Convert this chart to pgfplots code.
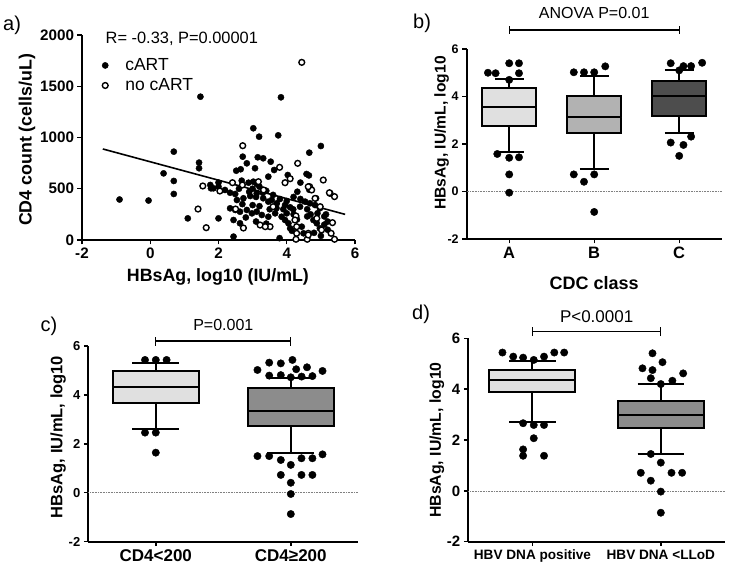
\documentclass[border=0pt]{standalone}
\usepackage{pgfplots}
\pgfplotsset{compat=1.18}
\usepgfplotslibrary{statistics}
\usepackage{fontspec}
\setmainfont{Liberation Sans}

\definecolor{boxlight}{HTML}{E0E0E0}
\definecolor{boxmid}{HTML}{B2B2B2}
\definecolor{boxdark}{HTML}{4D4D4D}
\definecolor{boxgray}{HTML}{8C8C8C}

\pgfplotsset{
  gp/.style={
    scale only axis,
    axis lines=left,
    axis line style={-, line width=2pt},
    tick align=outside,
    major tick length=4.5pt,
    every tick/.style={black, line width=1.4pt},
    xtick pos=bottom, ytick pos=left,
    /pgf/number format/assume math mode=true,
    /pgf/number format/1000 sep={},
    scaled ticks=false,
    clip=false,
    anchor=south west,
  },
  bp/.style={gp, xmin=-0.5, ymin=-2, ymax=6, ytick={-2,0,2,4,6}, xtick={0,1},
    boxplot/draw direction=y},
  outl/.style={only marks, mark=*, mark size=3.7pt, black},
}

\begin{document}
\begin{tikzpicture}
\useasboundingbox (0,0) rectangle (731pt,573pt);

% ---------------- panel a ----------------
\begin{axis}[gp, at={(82pt,333pt)}, width=273pt, height=205pt,
  xmin=-2, xmax=6, ymin=0, ymax=2000,
  xtick={-2,0,2,4,6}, ytick={0,500,1000,1500,2000},
  ticklabel style={font=\fontsize{15.2}{16}\selectfont\bfseries},
  every axis y label/.style={at={(axis description cs:-0.2015,0.488)}, rotate=90, anchor=center, font=\fontsize{17.8}{19}\selectfont\bfseries},
  every axis x label/.style={at={(axis description cs:0.498,-0.18)}, anchor=center, font=\fontsize{17.8}{19}\selectfont\bfseries},
  ylabel={CD4 count (cells/uL)}, xlabel={HBsAg, log10 (IU/mL)},
  legend style={at={(axis description cs:0.062,0.905)}, anchor=north west, draw=none, fill=none, font=\fontsize{17.5}{19}\selectfont, row sep=2.5pt,
    /tikz/every odd column/.append style={column sep=15pt}},
  legend cell align=left,
  legend image code/.code={\draw[#1] plot coordinates {(0.15cm,0cm)};},
]
\addplot[only marks, mark=*, mark size=3.1pt, black] coordinates {
(-0.9,395) (-0.05,385) (0.39,650) (0.69,862) (0.69,576) (0.69,449) (1.1,211)
(1.47,1398) (1.43,755) (1.43,700) (2.0,211) (1.78,504) (2.0,560) (2.44,33)
(3.83,1392) (3.75,1021) (3.02,1090) (3.19,1008) (5.0,917) (4.66,852) (3.79,18)
(2.71,813) (3.15,807) (3.31,797) (3.53,764) (2.83,748) (3.07,700) (2.52,676)
(2.65,690) (3.63,683) (4.03,634) (3.46,618) (4.58,644) (2.68,579) (1.76,537)
(1.85,504) (2.0,520) (2.88,559) (3.02,569) (3.12,546) (2.19,488) (2.34,461)
(2.49,449) (4.31,471) (4.66,490) (4.86,407) (2.54,390) (2.73,407) (2.93,429)
(3.12,455) (3.31,407) (3.46,374) (3.56,390) (3.71,358) (3.95,341) (4.1,319)
(4.19,299) (4.39,325) (4.54,374) (4.68,358) (4.83,341) (4.97,309) (2.34,309)
(2.49,293) (2.63,276) (2.83,293) (2.98,260) (3.12,276) (3.27,244) (3.46,227)
(3.66,260) (2.44,195) (2.63,163) (3.85,227) (3.95,195) (4.05,163) (4.1,114)
(4.44,130) (4.49,65) (4.78,195) (4.88,163) (4.97,114)
(3.0,500) (3.2,520) (3.4,480) (2.9,470) (3.1,420) (3.3,460) (3.6,440) (3.8,400)
(4.0,380) (4.2,420) (4.4,400) (4.6,300) (4.7,250) (4.9,260) (5.1,230) (5.2,180)
(4.2,250) (4.3,200) (4.0,260) (3.9,300) (4.6,230) (2.7,350) (3.0,340) (3.2,330)
(3.5,300) (3.7,310) (2.8,220) (3.1,180) (3.4,160) (2.6,500) (5.1,150) (5.2,100)
(4.15,90) (4.8,70) (5.0,40) (5.15,250) (4.4,560) (4.65,630)
};
\addlegendentry{cART}
\addplot[only marks, mark=*, mark size=2.9pt, draw=black, fill=white, mark options={line width=1.4pt, fill=white}] coordinates {
(4.44,1733) (2.71,920) (4.32,748) (3.79,709) (1.54,527) (1.40,302) (1.64,120)
(2.04,478) (2.41,559) (3.95,559) (4.1,598) (5.07,585) (5.27,455) (5.4,423)
(4.67,520) (4.73,488) (3.51,130) (2.73,117) (2.5,302) (4.27,234) (4.29,65)
(4.27,7) (4.63,65) (4.6,7) (5.02,98) (5.34,169) (5.3,65) (5.4,7) (4.88,211)
(4.98,325) (4.83,406) (2.7,537) (3.6,325) (3.32,488) (3.17,569) (3.22,146)
(3.37,130) (4.63,520) (5.25,461) (4.24,195) (4.29,130) (4.63,49)
};
\addlegendentry{no cART}
\addplot[black, line width=1.6pt, forget plot] coordinates {(-1.39,888) (5.71,250)};
\node[anchor=west, font=\fontsize{16.4}{18}\selectfont] at (axis cs:-1.41,1960) {R= -0.33, P=0.00001};
\node[font=\fontsize{20}{22}\selectfont] at (axis description cs:-0.256,1.049) {a)};
\end{axis}

% ---------------- panel b ----------------
\begin{axis}[bp, at={(466.7pt,334pt)}, width=255pt, height=190pt,
  xmax=2.5, xtick={0,1,2}, xticklabels={A,B,C},
  yticklabel style={font=\fontsize{12.5}{13}\selectfont\bfseries},
  xticklabel style={font=\fontsize{16.5}{18}\selectfont\bfseries},
  every axis y label/.style={at={(axis description cs:-0.098,0.558)}, rotate=90, anchor=center, font=\fontsize{15.6}{17}\selectfont\bfseries},
  every axis x label/.style={at={(axis description cs:0.5,-0.232)}, anchor=center, font=\fontsize{18}{20}\selectfont\bfseries},
  ylabel={HBsAg, IU/mL, log10}, xlabel={CDC class},
]
\addplot[densely dotted, gray, line width=0.6pt] coordinates {(-0.5,0) (2.5,0)};
\addplot[boxplot prepared={lower whisker=1.65, lower quartile=2.76, median=3.54, upper quartile=4.34, upper whisker=4.72, draw position=0, box extend=0.64, whisker extend=0.34}, draw=black, line width=2pt, fill=boxlight] coordinates {};
\addplot[boxplot prepared={lower whisker=0.95, lower quartile=2.48, median=3.12, upper quartile=4.03, upper whisker=4.85, draw position=1, box extend=0.64, whisker extend=0.34}, draw=black, line width=2pt, fill=boxmid] coordinates {};
\addplot[boxplot prepared={lower whisker=2.48, lower quartile=3.18, median=4.03, upper quartile=4.65, upper whisker=5.12, draw position=2, box extend=0.64, whisker extend=0.34}, draw=black, line width=2pt, fill=boxdark] coordinates {};
\addplot[outl] coordinates {
(-0.25,5.0) (-0.16,4.98) (0,5.40) (0.115,5.40) (0.115,4.98) (0,4.70)
(-0.14,1.58) (0,1.42) (0.115,1.44) (0,0.72) (0,-0.05)
(0.76,5.02) (0.88,5.02) (1,5.02) (1.13,5.27) (0.76,0.72) (0.88,0.41) (1,0.72) (1,-0.86)
(1.9,5.40) (2.05,5.28) (2.14,5.28) (2.27,5.42) (2.0,5.1) (1.9,2.06) (2.05,1.96) (2.14,2.31) (2.0,1.5)
};
\addplot[black, line width=1.3pt] coordinates {(0,6.64) (0,6.96)};
\addplot[black, line width=1.3pt] coordinates {(0,6.8) (2,6.8)};
\addplot[black, line width=1.3pt] coordinates {(2,6.64) (2,6.96)};
\node[font=\fontsize{16}{17}\selectfont] at (axis cs:1,7.5) {ANOVA P=0.01};
\node[font=\fontsize{20}{22}\selectfont] at (axis description cs:-0.175,1.137) {b)};
\end{axis}

% ---------------- panel c ----------------
\begin{axis}[bp, at={(88.3pt,31.3pt)}, width=270pt, height=195.7pt,
  xmax=1.5, xticklabels={CD4<200,CD4≥200},
  yticklabel style={font=\fontsize{13}{14}\selectfont\bfseries},
  xticklabel style={font=\fontsize{17}{18}\selectfont\bfseries},
  every axis y label/.style={at={(axis description cs:-0.112,0.535)}, rotate=90, anchor=center, font=\fontsize{16.5}{18}\selectfont\bfseries},
  ylabel={HBsAg, IU/mL, log10},
]
\addplot[densely dotted, gray, line width=0.6pt] coordinates {(-0.5,0) (1.5,0)};
\addplot[boxplot prepared={lower whisker=2.62, lower quartile=3.66, median=4.31, upper quartile=4.99, upper whisker=5.32, draw position=0, box extend=0.64, whisker extend=0.35}, draw=black, line width=2pt, fill=boxlight] coordinates {};
\addplot[boxplot prepared={lower whisker=1.61, lower quartile=2.73, median=3.34, upper quartile=4.30, upper whisker=4.71, draw position=1, box extend=0.64, whisker extend=0.35}, draw=black, line width=2pt, fill=boxgray] coordinates {};
\addplot[outl] coordinates {
(-0.08,5.43) (0,5.43) (0.08,5.43) (-0.08,2.46) (0,2.46) (0,1.64)
(0.753,5.02) (0.84,5.32) (0.926,5.29) (1.012,5.43) (1.04,5.05) (1.12,5.13) (1.235,4.98)
(0.84,4.79) (0.926,4.81) (1,4.72) (1.08,4.75) (1.16,4.77)
(0.753,1.50) (0.84,1.50) (0.926,1.34) (1,1.14) (1.079,1.41) (1.16,1.41) (1.235,1.57)
(0.926,0.73) (1.079,0.73) (1.16,0.73) (1,0.41) (1,-0.05) (1,-0.87)
};
\addplot[black, line width=1.3pt] coordinates {(0,6.02) (0,6.38)};
\addplot[black, line width=1.3pt] coordinates {(0,6.2) (1,6.2)};
\addplot[black, line width=1.3pt] coordinates {(1,6.02) (1,6.38)};
\node[font=\fontsize{16}{17}\selectfont] at (axis cs:0.5,6.86) {P=0.001};
\node[font=\fontsize{20}{22}\selectfont] at (axis description cs:-0.146,1.102) {c)};
\end{axis}

% ---------------- panel d ----------------
\begin{axis}[bp, at={(468.3pt,31.3pt)}, width=256.7pt, height=203.4pt,
  xmax=1.5, xticklabels={HBV DNA positive,HBV DNA <LLoD},
  yticklabel style={font=\fontsize{15}{16}\selectfont\bfseries},
  xticklabel style={font=\fontsize{13.6}{15}\selectfont\bfseries},
  every axis y label/.style={at={(axis description cs:-0.123,0.5)}, rotate=90, anchor=center, font=\fontsize{15.8}{17}\selectfont\bfseries},
  ylabel={HBsAg, IU/mL, log10},
]
\addplot[densely dotted, gray, line width=0.6pt] coordinates {(-0.5,0) (1.5,0)};
\addplot[boxplot prepared={lower whisker=2.72, lower quartile=3.90, median=4.36, upper quartile=4.75, upper whisker=5.11, draw position=0, box extend=0.67, whisker extend=0.36}, draw=black, line width=2pt, fill=boxlight] coordinates {};
\addplot[boxplot prepared={lower whisker=1.45, lower quartile=2.49, median=2.98, upper quartile=3.53, upper whisker=4.20, draw position=1, box extend=0.67, whisker extend=0.36}, draw=black, line width=2pt, fill=boxgray] coordinates {};
\addplot[outl] coordinates {
(-0.234,5.44) (-0.15,5.28) (-0.073,5.24) (0.01,5.15) (0.09,5.28) (0.17,5.44) (0.247,5.44)
(-0.073,2.66) (0.01,2.59) (0.09,2.59) (0.01,2.07) (-0.073,1.63) (-0.073,1.38) (0.09,1.38)
(0.935,5.41) (0.857,4.82) (0.935,4.75) (1.013,5.06) (1.174,4.62) (0.922,4.43) (1.09,4.33) (1,4.20)
(0.922,1.45) (1,1.11) (0.844,0.71) (1.083,0.71) (1.166,0.71) (0.922,0.40) (1,-0.03) (1,-0.86)
};
\addplot[black, line width=1.3pt] coordinates {(0,6.09) (0,6.43)};
\addplot[black, line width=1.3pt] coordinates {(0,6.26) (1,6.26)};
\addplot[black, line width=1.3pt] coordinates {(1,6.09) (1,6.43)};
\node[font=\fontsize{17}{18}\selectfont] at (axis cs:0.5,6.85) {P<0.0001};
\node[font=\fontsize{20}{22}\selectfont] at (axis description cs:-0.184,1.12) {d)};
\end{axis}
\end{tikzpicture}
\end{document}
